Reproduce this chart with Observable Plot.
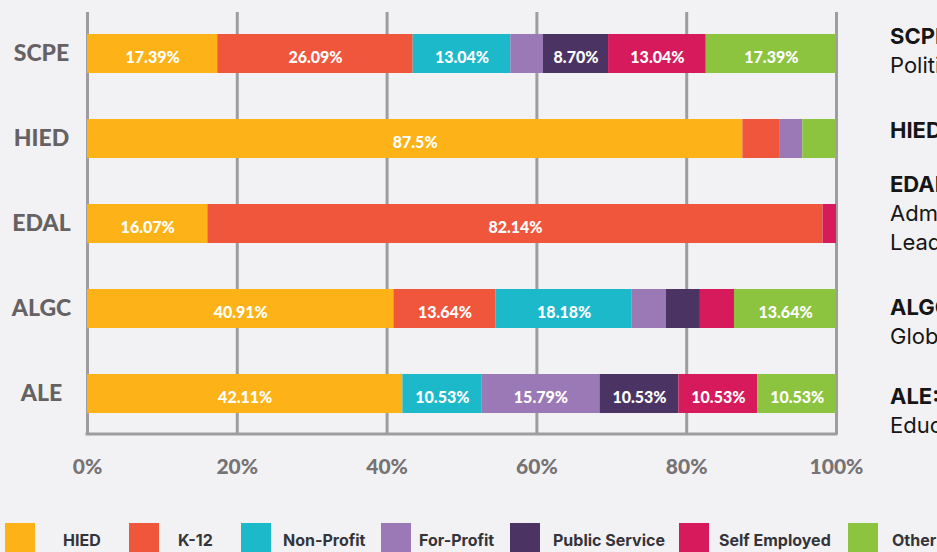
<!DOCTYPE html>
<html>
<head>
<meta charset="utf-8">
<script src="https://cdn.jsdelivr.net/npm/d3@7"></script>
<script src="https://cdn.jsdelivr.net/npm/@observablehq/plot@0.6"></script>
<style>
  html, body { margin: 0; padding: 0; background: #f2f2f4; }
  #wrap { position: relative; width: 937px; height: 552px; overflow: hidden; background: #f2f2f4; }
  #chart { position: absolute; left: 0; top: 0; }
  svg g[aria-label^="x-axis"] text { font-family: Lato, sans-serif; font-size: 21px; font-weight: 900; fill: #777274; }
  svg g[aria-label^="y-axis"] text { font-family: Lato, sans-serif; font-size: 23px; font-weight: 900; fill: #666163; text-anchor: middle; }
  .note { position: absolute; left: 890px; white-space: nowrap; font-family: Inter, "Open Sans", sans-serif; font-size: 22px; color: #161616; line-height: 29px; }
  .note b { font-weight: 700; }
  .leg-sw { position: absolute; top: 523px; width: 30px; height: 30px; }
  .leg-tx { position: absolute; top: 529px; white-space: nowrap; font-family: Inter, "Open Sans", sans-serif; font-size: 16px; font-weight: 700; color: #34343a; line-height: 22px; }
</style>
</head>
<body>
<div id="wrap">
  <div id="chart"></div>
</div>
<script>
// ---- data ----
const programs = ["SCPE", "HIED", "EDAL", "ALGC", "ALE"];
const sectors = ["HIED", "K-12", "Non-Profit", "For-Profit", "Public Service", "Self Employed", "Other"];
const sectorColors = ["#fdb317", "#f0563c", "#1cb9cb", "#9b78b6", "#4b3464", "#d71a5b", "#8cc43f"];
const xTicks = [0, 20, 40, 60, 80, 100];

// values per sector, in program order
const hied          = [17.39, 87.5, 16.07, 40.91, 42.11];
const k12           = [26.09, 5.0, 82.14, 13.64, 0];
const nonProfit     = [13.04, 0, 0, 18.18, 10.53];
const forProfit     = [4.35, 3.0, 0, 4.55, 15.79];
const publicService = [8.70, 0, 0, 4.55, 10.53];
const selfEmployed  = [13.04, 0, 1.79, 4.55, 10.53];
const other         = [17.39, 4.5, 0, 13.64, 10.53];

// side notes (bold lead + continuation lines)
const noteLeads = ["SCPE: Social Change,", "HIED: Higher Education", "EDAL: Educational", "ALGC: Adult Learning &", "ALE: Adult Learning &"];
const noteRest  = [["Politics & Education"], [], ["Administration &", "Leadership"], ["Global Change"], ["Education"]];

// ---- build table ----
const seriesValues = [hied, k12, nonProfit, forProfit, publicService, selfEmployed, other];
const rows = programs.flatMap((p, i) =>
  sectors.map((s, j) => ({program: p, sector: s, value: seriesValues[j][i]}))
).filter(d => d.value > 0);

const fmt = v => (v >= 50 && v.toFixed(2).endsWith("0") ? v.toFixed(1) : v.toFixed(2)) + "%";
const gridColor = "#9d9c9f";

const chart = Plot.plot({
  width: 937,
  height: 500,
  marginTop: 12,
  marginBottom: 66,
  marginLeft: 87,
  marginRight: 101,
  style: {background: "transparent", fontFamily: "Lato, sans-serif"},
  x: {domain: [0, 100], ticks: xTicks, tickFormat: d => d + "%", tickSize: 0, tickPadding: 25, label: null},
  y: {domain: programs, paddingInner: 0.544, paddingOuter: 0.24, tickSize: 0, tickPadding: 46, label: null},
  color: {domain: sectors, range: sectorColors},
  marks: [
    Plot.ruleX(xTicks, {stroke: gridColor, strokeWidth: 3}),
    Plot.rect([0], {x1: 0, x2: 100, fill: gridColor, insetTop: 420.5, insetBottom: -1.5, insetLeft: -1.5, insetRight: -1.5}),
    Plot.barX(rows, Plot.stackX({x: "value", y: "program", fill: "sector", order: sectors})),
    Plot.text(rows, Plot.stackX({
      x: "value", y: "program", z: "sector", order: sectors,
      text: d => d.value >= 8 ? fmt(d.value) : "",
      fill: "white", fontSize: 16, fontWeight: 900, dy: 4
    }))
  ]
});
document.getElementById("chart").appendChild(chart);

// ---- side notes ----
const wrap = document.getElementById("wrap");
const noteTops = [22, 116, 170, 293, 382];
noteLeads.forEach((lead, i) => {
  const div = document.createElement("div");
  div.className = "note";
  div.style.top = noteTops[i] + "px";
  div.innerHTML = "<b></b>";
  div.querySelector("b").textContent = lead;
  noteRest[i].forEach(line => {
    div.appendChild(document.createElement("br"));
    div.appendChild(document.createTextNode(line));
  });
  wrap.appendChild(div);
});

// ---- legend ----
const legSwX = [5, 129, 241, 381, 510, 679, 848];
const legTxX = [63, 178, 283, 419, 553, 719, 892];
sectors.forEach((s, i) => {
  const sw = document.createElement("div");
  sw.className = "leg-sw";
  sw.style.left = legSwX[i] + "px";
  sw.style.background = sectorColors[i];
  wrap.appendChild(sw);
  const tx = document.createElement("div");
  tx.className = "leg-tx";
  tx.style.left = legTxX[i] + "px";
  tx.textContent = s;
  wrap.appendChild(tx);
});
</script>
</body>
</html>
